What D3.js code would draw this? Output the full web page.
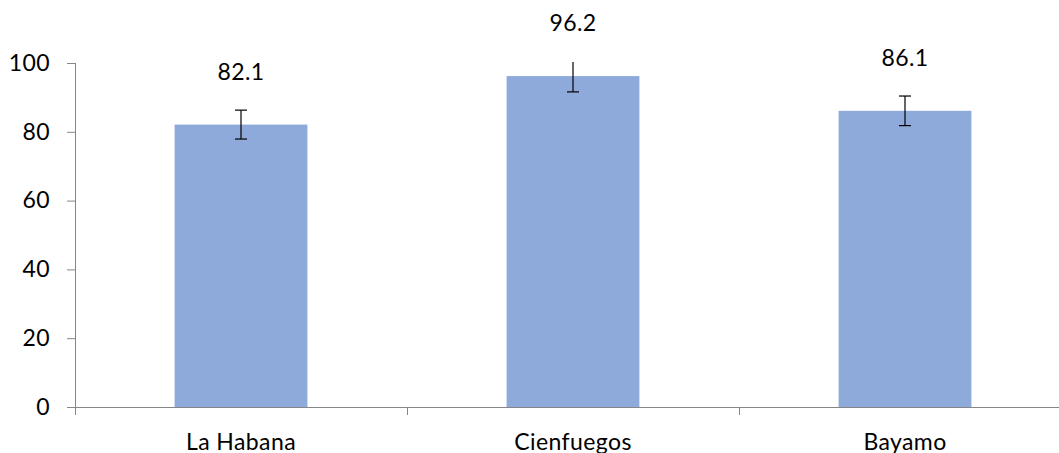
<!DOCTYPE html>
<html>
<head>
<meta charset="utf-8">
<script src="https://cdn.jsdelivr.net/npm/d3@7"></script>
<style>
  body { margin: 0; background: #fff; }
  svg text { font-family: Lato, "Open Sans", sans-serif; fill: #000; letter-spacing: 0.4px; }
</style>
</head>
<body>
<svg></svg>
<script>
const ciudades = ["La Habana", "Cienfuegos", "Bayamo"]
const valores = [82.1, 96.2, 86.1]
const errores = [4.2, 4.6, 4.3]
const yTicks = [0, 20, 40, 60, 80, 100]

const width = 1059
const height = 453
const fontSize = "23px"
const svg = d3.select('svg')
    .attr("width", width)
    .attr("height", height)

const data = ciudades.map((c, i) => ({ key: c, value: valores[i], err: errores[i] }))

const x = d3.scaleBand()
    .domain(ciudades)
    .range([75, 1071])
const y = d3.scaleLinear()
    .domain([0, 100])
    .range([407, 63])

const barW = x.bandwidth() * 0.4

// clip for the error bars (plot area)
svg.append("clipPath").attr("id", "plot")
    .append("rect")
    .attr("x", 75).attr("y", y(100) - 1)
    .attr("width", width - 75).attr("height", y(0) - y(100) + 1)

// bars
svg.selectAll('.bar')
    .data(data)
    .enter().append('rect')
    .attr('class', 'bar')
    .attr("x", d => x(d.key) + (x.bandwidth() - barW) / 2)
    .attr("y", d => y(d.value))
    .attr("width", barW)
    .attr("height", d => y(0) - y(d.value))
    .attr("fill", "#8eaadb")

// error bars
const eb = svg.append("g").attr("clip-path", "url(#plot)")
    .selectAll('g')
    .data(data)
    .enter().append('g')
    .attr("stroke", "#000")
    .attr("stroke-width", 1.2)
eb.append("line")
    .attr("x1", d => x(d.key) + x.bandwidth() / 2)
    .attr("x2", d => x(d.key) + x.bandwidth() / 2)
    .attr("y1", d => y(d.value + d.err))
    .attr("y2", d => y(d.value - d.err))
eb.selectAll(".cap")
    .data(d => [[d, d.value + d.err], [d, d.value - d.err]])
    .enter().append("line")
    .attr("x1", ([d]) => x(d.key) + x.bandwidth() / 2 - 6)
    .attr("x2", ([d]) => x(d.key) + x.bandwidth() / 2 + 6)
    .attr("y1", ([, v]) => y(v))
    .attr("y2", ([, v]) => y(v))

// data labels
svg.selectAll('.label')
    .data(data)
    .enter().append('text')
    .attr("x", d => x(d.key) + x.bandwidth() / 2)
    .attr("y", d => y(d.value) - 45)
    .attr("text-anchor", "middle")
    .style("font-size", fontSize)
    .text(d => d.value.toFixed(1))

// y axis
const yAxis = svg.append("g")
    .attr("transform", "translate(75,0)")
    .call(d3.axisLeft(y).tickValues(yTicks).tickSize(8).tickPadding(17))
yAxis.select(".domain").attr("stroke", "#868686").attr("d", `M0.5,${y(100)}V${y(0)}`)
yAxis.selectAll(".tick line").attr("stroke", "#868686")
yAxis.selectAll(".tick text").style("font-size", fontSize).style("font-family", "Lato, sans-serif")

// x axis
const xAxis = svg.append("g")
    .attr("transform", `translate(0,${y(0)})`)
    .call(d3.axisBottom(x).tickSize(0).tickPadding(27))
xAxis.select(".domain").attr("stroke", "#868686").attr("d", `M67,0.5H${width}`)
xAxis.selectAll(".tick text").style("font-size", fontSize).style("font-family", "Lato, sans-serif")
xAxis.selectAll(".sep")
    .data([75, 407, 739])
    .enter().append("line")
    .attr("x1", d => d + 0.5).attr("x2", d => d + 0.5)
    .attr("y1", 0).attr("y2", 8)
    .attr("stroke", "#868686")
</script>
</body>
</html>
